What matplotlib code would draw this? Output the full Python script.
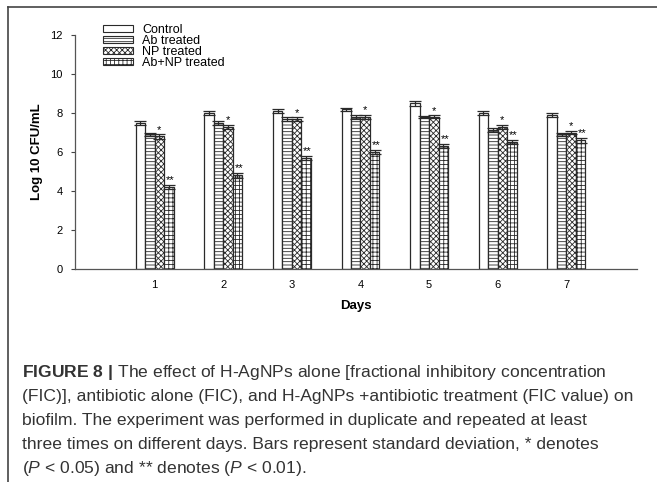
import matplotlib
matplotlib.use("Agg")
import matplotlib.pyplot as plt
from matplotlib.lines import Line2D
from matplotlib.patches import Rectangle
import numpy as np

plt.rcParams["font.family"] = ["Liberation Sans", "DejaVu Sans"]
plt.rcParams["mathtext.fontset"] = "custom"
plt.rcParams["mathtext.rm"] = "Liberation Sans"
plt.rcParams["mathtext.it"] = "Liberation Sans:italic"
plt.rcParams["mathtext.bf"] = "Liberation Sans:bold"
plt.rcParams["hatch.linewidth"] = 0.6

days = [1, 2, 3, 4, 5, 6, 7]
series = ["Control", "Ab treated", "NP treated", "Ab+NP treated"]
control = [7.5, 8.0, 8.1, 8.2, 8.5, 8.0, 7.9]
ab = [6.9, 7.5, 7.7, 7.8, 7.8, 7.15, 6.9]
np_tr = [6.8, 7.3, 7.7, 7.8, 7.8, 7.3, 7.0]
ab_np = [4.2, 4.8, 5.7, 6.0, 6.3, 6.5, 6.6]
control_err = [0.10, 0.12, 0.12, 0.08, 0.12, 0.10, 0.10]
ab_err = [0.08, 0.10, 0.12, 0.10, 0.06, 0.10, 0.08]
np_err = [0.12, 0.10, 0.10, 0.12, 0.08, 0.10, 0.10]
ab_np_err = [0.12, 0.12, 0.12, 0.12, 0.10, 0.10, 0.12]
yticks = [0, 2, 4, 6, 8, 10, 12]

caption = [
    r"$\mathbf{FIGURE\ 8\ |}$ The effect of H-AgNPs alone [fractional inhibitory concentration",
    "(FIC)], antibiotic alone (FIC), and H-AgNPs +antibiotic treatment (FIC value) on",
    "biofilm. The experiment was performed in duplicate and repeated at least",
    "three times on different days. Bars represent standard deviation, * denotes",
    r"($\mathit{P}$ < 0.05) and ** denotes ($\mathit{P}$ < 0.01).",
]

W, H = 657, 482
fig = plt.figure(figsize=(W / 100, H / 100), dpi=100)
ax = fig.add_axes([75 / W, 213 / H, 562 / W, 234 / H])

values = [control, ab, np_tr, ab_np]
errs = [control_err, ab_err, np_err, ab_np_err]
hatches = [None, "-----", "xxxxxx", "++++"]
edge = "#2a2a2a"
w = 0.138
x = np.array(days, dtype=float)
for i, (vals, e, h, lab) in enumerate(zip(values, errs, hatches, series)):
    pos = x + (i - 1.5) * w
    ax.bar(pos, vals, width=w, color="white", edgecolor=edge,
           hatch=h, linewidth=0.9, zorder=2)
    ax.errorbar(pos, vals, yerr=e, fmt="none", ecolor=edge,
                elinewidth=0.9, capsize=4, capthick=0.9, zorder=3)
    if i == 2:
        for p, v, ee in zip(pos, vals, e):
            ax.text(p, v + ee + 0.22, "*", ha="center", va="center", fontsize=8)
    if i == 3:
        for p, v, ee in zip(pos, vals, e):
            ax.text(p + 0.02, v + ee + 0.25, "**", ha="center", va="center", fontsize=8)

ax.set_xlim(-0.16, 8.03)
ax.set_ylim(0, 12)
ax.set_yticks(yticks)
ax.set_xticks(days)
ax.tick_params(axis="x", length=0, pad=8, labelsize=8)
ax.tick_params(axis="y", length=3, width=0.8, labelsize=8, pad=6, color="#444444")
for s in ["top", "right"]:
    ax.spines[s].set_visible(False)
for s in ["left", "bottom"]:
    ax.spines[s].set_color("#555555")
    ax.spines[s].set_linewidth(0.9)
ax.set_xlabel("Days", fontsize=9.5, fontweight="bold")
ax.set_ylabel("Log 10 CFU/mL", fontsize=9.5, fontweight="bold")
ax.xaxis.set_label_coords(0.5, (269 - 300) / 234)
ax.yaxis.set_label_coords((43 - 75) / 562, 0.5)

# legend drawn by hand so the rows sit as tightly as in the original
row_y = [28.3, 39.3, 50.3, 61.5]
for lab, h, yy in zip(series, hatches, row_y):
    fig.add_artist(Rectangle((103 / W, 1 - (yy + 3.2) / H), 30 / W, 6.4 / H,
                             facecolor="white", edgecolor=edge, hatch=h,
                             linewidth=0.8, transform=fig.transFigure))
    fig.text(142 / W, 1 - yy / H, lab, fontsize=9, ha="left", va="center_baseline")

# page frame
fig.add_artist(Line2D([8 / W, 1], [1 - 6.5 / H, 1 - 6.5 / H], color="#444444", lw=1.2))
fig.add_artist(Line2D([8 / W, 8 / W], [0, 1 - 6.5 / H], color="#444444", lw=1.2))

for k, line in enumerate(caption):
    fig.text(22 / W, 1 - (373 + 24 * k) / H, line, fontsize=12.6,
             ha="left", va="center", color="#333333")

fig.savefig("out.png", dpi=100)
